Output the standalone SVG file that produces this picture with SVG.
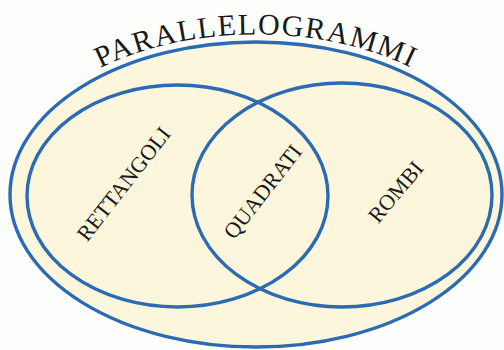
<svg xmlns="http://www.w3.org/2000/svg" xmlns:xlink="http://www.w3.org/1999/xlink" width="504" height="350" viewBox="0 0 504 350">
  <style>
    .set { stroke: #2a6bb4; stroke-width: 3.4; }
    .lbl { font-family: "Liberation Serif", "Times New Roman", serif; fill: #1a1a1a; text-anchor: middle; }
  </style>
  <defs>
    <path id="titleArc" d="M 2,194.5 A 253 159.5 0 0 1 510,194.5" fill="none"/>
  </defs>
  <rect x="0" y="0" width="504" height="350" fill="#fefefc"/>
  <g id="parallelogrammi">
    <ellipse class="set" cx="256" cy="194.5" rx="246" ry="152.5" fill="#fbf6dc"/>
    <text class="lbl" font-size="30" letter-spacing="1.5">
      <textPath xlink:href="#titleArc" href="#titleArc" startOffset="50%">PARALLELOGRAMMI</textPath>
    </text>
  </g>
  <g id="rettangoli">
    <ellipse class="set" cx="177.5" cy="196" rx="150.5" ry="111" fill="none"/>
    <text class="lbl" font-size="22" transform="translate(124,184) rotate(-52)" y="7">RETTANGOLI</text>
  </g>
  <g id="rombi">
    <ellipse class="set" cx="342" cy="195" rx="150" ry="112" fill="none"/>
    <text class="lbl" font-size="22" transform="translate(396,192) rotate(-50)" y="7">ROMBI</text>
  </g>
  <g id="quadrati">
    <text class="lbl" font-size="22" transform="translate(263,192) rotate(-52)" y="7">QUADRATI</text>
  </g>
  <g id="connectors"/>
</svg>
